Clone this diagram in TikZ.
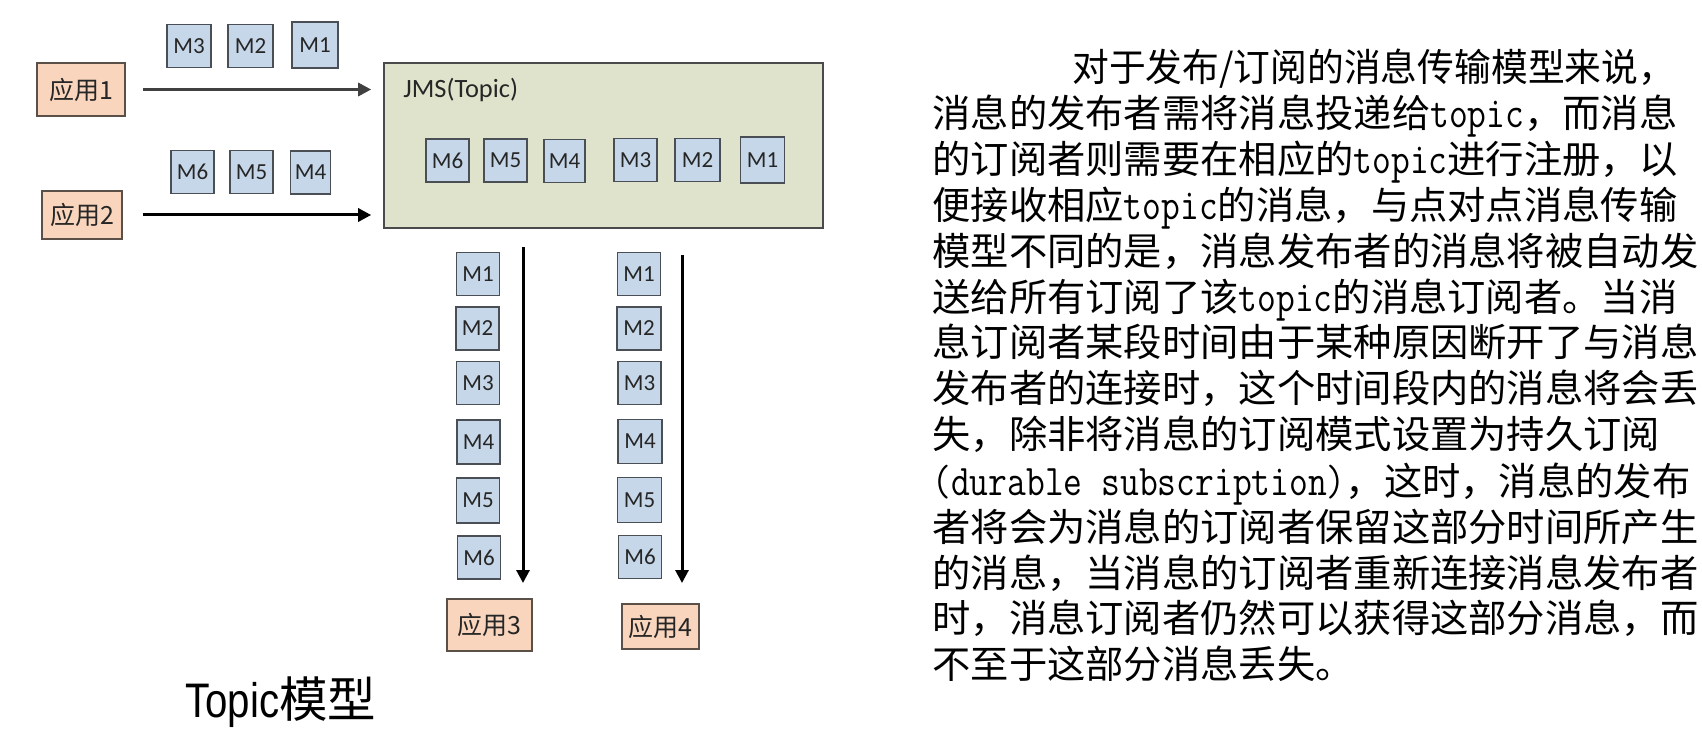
\documentclass[tikz,border=0pt]{standalone}
\usepackage{fontspec}
\setmainfont{Carlito}
\newfontfamily\cjk{Noto Sans CJK SC}
\newfontfamily\arialf{Liberation Sans}
\usetikzlibrary{arrows.meta}
\definecolor{appfill}{HTML}{F8D5BC}
\definecolor{appdraw}{HTML}{5A5048}
\definecolor{mfill}{HTML}{C6D7E9}
\definecolor{mdraw}{HTML}{4A4F55}
\definecolor{jmsfill}{HTML}{E0E3CC}
\definecolor{jmsdraw}{HTML}{4A4A4A}
\definecolor{arrgray}{HTML}{404040}
\newcommand\mylat[1]{\scalebox{1}[1.2]{\fontsize{18.24pt}{22pt}\ttfamily #1}}
\tikzset{
  appbox/.style={draw=appdraw, fill=appfill, line width=0.8pt, inner sep=0pt,
    font=\cjk\fontsize{12.5pt}{14pt}\selectfont, text=black!85},
  mbox/.style={draw=mdraw, fill=mfill, line width=0.8pt, inner sep=0pt,
    minimum width=21.5pt, minimum height=21.5pt,
    font=\fontsize{11.5pt}{13pt}\selectfont, text=black!85},
  jmsbox/.style={draw=jmsdraw, fill=jmsfill, line width=0.8pt, inner sep=0pt,
    minimum width=219.5pt, minimum height=82.5pt},
  flow/.style={line width=1.5pt, -{Triangle[length=6.5pt,width=6.5pt]}},
  para/.style={anchor=base west, inner sep=0pt,
    font=\cjk\fontsize{19.15pt}{23pt}\selectfont},
}
\begin{document}
\begin{tikzpicture}[x=0.5pt,y=-0.5pt]
\useasboundingbox (0,0) rectangle (1702,732);
% JMS box
\node[jmsbox] (jms) at (603.5,145.5) {};
\node[anchor=west, inner sep=0pt, font=\fontsize{13.2pt}{15pt}\selectfont, text=black!85] (jmslbl) at (403,90) {JMS(Topic)};
% producers
\node[appbox, minimum width=44pt, minimum height=26.5pt] (app1) at (81,89.5) {应用1};
\node[appbox, minimum width=40pt, minimum height=24pt] (app2) at (82,215) {应用2};
% top message rows
\node[mbox, minimum width=22pt] (t3) at (189,46) {M3};
\node[mbox, minimum width=22.5pt] (t2) at (250.5,46) {M2};
\node[mbox, minimum width=23pt, minimum height=23pt] (t1) at (315,45) {M1};
\node[mbox] (s6) at (192.5,172) {M6};
\node[mbox] (s5) at (251.5,172) {M5};
\node[mbox, minimum width=20pt] (s4) at (310.5,172.5) {M4};
% inner messages
\node[mbox] (i6) at (447.5,160.5) {M6};
\node[mbox] (i5) at (505.5,160.5) {M5};
\node[mbox, minimum width=20.5pt] (i4) at (564.5,161) {M4};
\node[mbox] (i3) at (635.5,160) {M3};
\node[mbox, minimum width=22.5pt] (i2) at (697.5,160) {M2};
\node[mbox, minimum width=22pt, minimum height=23pt] (i1) at (762.5,160) {M1};
% producer arrows
\draw[flow, arrgray, shorten <=8.5pt, shorten >=6pt] (app1.east) -- (app1.east -| jms.west);
\draw[flow, black, shorten <=10pt, shorten >=6pt] (app2.east) -- (app2.east -| jms.west);
% left column
\node[mbox] (l1) at (478,274) {M1};
\node[mbox] (l2) at (477.5,328.5) {M2};
\node[mbox] (l3) at (478,383) {M3};
\node[mbox, minimum height=22pt] (l4) at (478.5,442) {M4};
\node[mbox, minimum height=22.5pt] (l5) at (478,500.5) {M5};
\node[mbox] (l6) at (479,557.5) {M6};
% right column
\node[mbox] (r1) at (639,274) {M1};
\node[mbox, minimum width=22pt] (r2) at (639,328.5) {M2};
\node[mbox] (r3) at (639.5,383) {M3};
\node[mbox, minimum width=22pt, minimum height=22pt] (r4) at (640,441.5) {M4};
\node[mbox, minimum width=22pt, minimum height=22.5pt] (r5) at (639.5,500) {M5};
\node[mbox] (r6) at (640,557) {M6};
% consumers
\node[appbox, minimum width=42.5pt, minimum height=26pt] (app3) at (489.5,625) {应用3};
\node[appbox, minimum width=38.5pt, minimum height=22.5pt] (app4) at (660.5,626.5) {应用4};
% consumer arrows
\coordinate (a3top) at (523,247);
\coordinate (a3bot) at (523,583);
\coordinate (a4top) at (682,255);
\coordinate (a4bot) at (682,583);
\draw[flow, black] (a3top) -- (a3bot);
\draw[flow, black] (a4top) -- (a4bot);
% caption
\node[anchor=base west, inner sep=0pt] (cap) at (185,717)
  {\fontsize{24.25pt}{28pt}\selectfont\scalebox{0.83}[1]{\arialf Topic}\cjk 模型};
% paragraph
\node[para] (p1) at (1072,82) {\scalebox{0.96}[1]{对于发布/订阅的消息传输模型来说，}};
\node[para] (p2) at (932,128) {消息的发布者需将消息投递给\mylat{topic}，而消息};
\node[para] (p3) at (932,174) {的订阅者则需要在相应的\mylat{topic}进行注册，以};
\node[para] (p4) at (932,220) {便接收相应\mylat{topic}的消息，与点对点消息传输};
\node[para] (p5) at (932,266) {模型不同的是，消息发布者的消息将被自动发};
\node[para] (p6) at (932,312) {送给所有订阅了该\mylat{topic}的消息订阅者。当消};
\node[para] (p7) at (932,357) {息订阅者某段时间由于某种原因断开了与消息};
\node[para] (p8) at (932,403) {发布者的连接时，这个时间段内的消息将会丢};
\node[para] (p9) at (932,449) {失，除非将消息的订阅模式设置为持久订阅};
\node[para] (p10) at (932,495) {\mylat{(durable subscription)}，这时，消息的发布};
\node[para] (p11) at (932,541) {者将会为消息的订阅者保留这部分时间所产生};
\node[para] (p12) at (932,587) {的消息，当消息的订阅者重新连接消息发布者};
\node[para] (p13) at (932,632) {时，消息订阅者仍然可以获得这部分消息，而};
\node[para] (p14) at (932,678) {不至于这部分消息丢失。};
\end{tikzpicture}
\end{document}
